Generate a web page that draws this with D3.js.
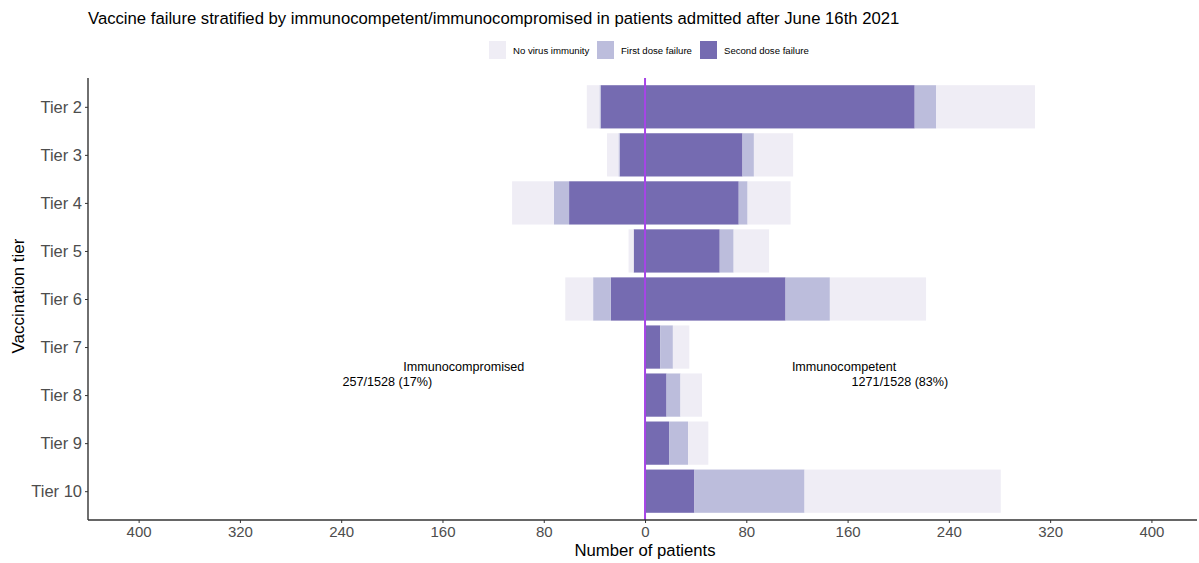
<!DOCTYPE html>
<html>
<head>
<meta charset="utf-8">
<script src="https://cdn.jsdelivr.net/npm/d3@7"></script>
<style>
  html, body { margin: 0; padding: 0; background: #ffffff; }
  svg { display: block; font-family: "Liberation Sans", Arial, Helvetica, sans-serif; }
</style>
</head>
<body>
<svg id="chart" width="1199" height="563"></svg>
<script>
// Vaccination tiers (top to bottom)
const tiers = ["Tier 2", "Tier 3", "Tier 4", "Tier 5", "Tier 6", "Tier 7", "Tier 8", "Tier 9", "Tier 10"];

// Immunocompetent patients (drawn to the right of zero)
const competentSecondDose = [213, 77, 74, 59, 111, 12, 17, 19, 39];
const competentFirstDose  = [17, 9, 7, 11, 35, 10, 11, 15, 87];
const competentNoImmunity = [78, 31, 34, 28, 76, 13, 17, 16, 155];

// Immunocompromised patients (drawn to the left of zero)
const compromisedSecondDose = [35, 20, 60, 9, 27, 0, 0, 0, 0];
const compromisedFirstDose  = [1, 1, 12, 0, 14, 0, 0, 0, 0];
const compromisedNoImmunity = [10, 9, 33, 4, 22, 0, 0, 0, 0];

// Stack order from zero outwards, with legend labels
const segmentNames = ["Second dose failure", "First dose failure", "No virus immunity"];
const legendOrder = ["No virus immunity", "First dose failure", "Second dose failure"];
const xTicks = [-400, -320, -240, -160, -80, 0, 80, 160, 240, 320, 400];

const title = "Vaccine failure stratified by immunocompetent/immunocompromised in patients admitted after June 16th 2021";
const groupLabels = [
  { name: "Immunocompromised", share: "257/1528 (17%)" },
  { name: "Immunocompetent", share: "1271/1528 (83%)" }
];

const colour = d3.scaleOrdinal()
  .domain(["No virus immunity", "First dose failure", "Second dose failure"])
  .range(["#efedf5", "#bcbddc", "#756bb1"]);

const svg = d3.select("#chart");
const panel = { left: 88, right: 1197, top: 78, bottom: 520 };

const x = d3.scaleLinear().domain([-440, 436]).range([panel.left, panel.right]);
const y = d3.scalePoint().domain(tiers).range([panel.top, panel.bottom]).padding(0.6);
const barH = y.step() * 0.9;

// Build stacked segments for each side
const rows = [];
tiers.forEach((t, i) => {
  const right = [competentSecondDose[i], competentFirstDose[i], competentNoImmunity[i]];
  const left = [compromisedSecondDose[i], compromisedFirstDose[i], compromisedNoImmunity[i]];
  let acc = 0;
  right.forEach((v, k) => { rows.push({ tier: t, key: segmentNames[k], x0: acc, x1: acc + v }); acc += v; });
  acc = 0;
  left.forEach((v, k) => { rows.push({ tier: t, key: segmentNames[k], x0: -(acc + v), x1: -acc }); acc += v; });
});

svg.append("g")
  .selectAll("rect")
  .data(rows.filter(d => d.x1 > d.x0))
  .join("rect")
  .attr("x", d => x(d.x0))
  .attr("width", d => x(d.x1) - x(d.x0))
  .attr("y", d => y(d.tier) - barH / 2)
  .attr("height", barH)
  .attr("fill", d => colour(d.key));

// Zero reference line
svg.append("line")
  .attr("x1", x(0)).attr("x2", x(0))
  .attr("y1", panel.top).attr("y2", panel.bottom)
  .attr("stroke", "#a645e6")
  .attr("stroke-width", 2);

// Axes
const axisColour = "#333333";
const yAxis = svg.append("g")
  .attr("transform", `translate(${panel.left},0)`)
  .call(d3.axisLeft(y).tickSize(3).tickPadding(3));
const xAxis = svg.append("g")
  .attr("transform", `translate(0,${panel.bottom})`)
  .call(d3.axisBottom(x).tickValues(xTicks).tickSize(3).tickPadding(3).tickFormat(d => Math.abs(d)));

[yAxis, xAxis].forEach(g => {
  g.select(".domain").attr("stroke", axisColour).attr("stroke-width", 1.4);
  g.selectAll(".tick line").attr("stroke", axisColour).attr("stroke-width", 1);
  g.selectAll(".tick text").attr("fill", "#4d4d4d").attr("font-family", "Liberation Sans, Arial, sans-serif");
});
yAxis.selectAll(".tick text").attr("font-size", 16.5);
xAxis.selectAll(".tick text").attr("font-size", 15);
yAxis.select(".domain").attr("d", `M0,${panel.top}V${panel.bottom}`);
xAxis.select(".domain").attr("d", `M${panel.left},0H${panel.right}`);

// Axis titles
svg.append("text")
  .attr("x", x(0)).attr("y", 556)
  .attr("text-anchor", "middle")
  .attr("font-size", 16.7).attr("fill", "#000")
  .text("Number of patients");
svg.append("text")
  .attr("transform", `translate(24,${(panel.top + panel.bottom) / 2 - 3}) rotate(-90)`)
  .attr("text-anchor", "middle")
  .attr("font-size", 17).attr("fill", "#000")
  .text("Vaccination tier");

// Title
svg.append("text")
  .attr("x", 88).attr("y", 24)
  .attr("font-size", 16.7).attr("fill", "#000")
  .text(title);

// Legend
const legend = svg.append("g").attr("transform", "translate(489,41)");
const legendX = [0, 108, 211];
legendOrder.forEach((name, i) => {
  const g = legend.append("g").attr("transform", `translate(${legendX[i]},0)`);
  g.append("rect").attr("width", 17).attr("height", 18).attr("fill", colour(name));
  g.append("text").attr("x", 24).attr("y", 12.5).attr("font-size", 9.6).attr("fill", "#000").text(name);
});

// Group annotations
const ann = svg.append("g").attr("font-size", 12.6).attr("fill", "#000");
ann.append("text").attr("x", x(-191)).attr("y", 371).text(groupLabels[0].name);
ann.append("text").attr("x", x(-239)).attr("y", 386).text(groupLabels[0].share);
ann.append("text").attr("x", x(116)).attr("y", 371).text(groupLabels[1].name);
ann.append("text").attr("x", x(239.5)).attr("y", 386).attr("text-anchor", "end").text(groupLabels[1].share);
</script>
</body>
</html>
